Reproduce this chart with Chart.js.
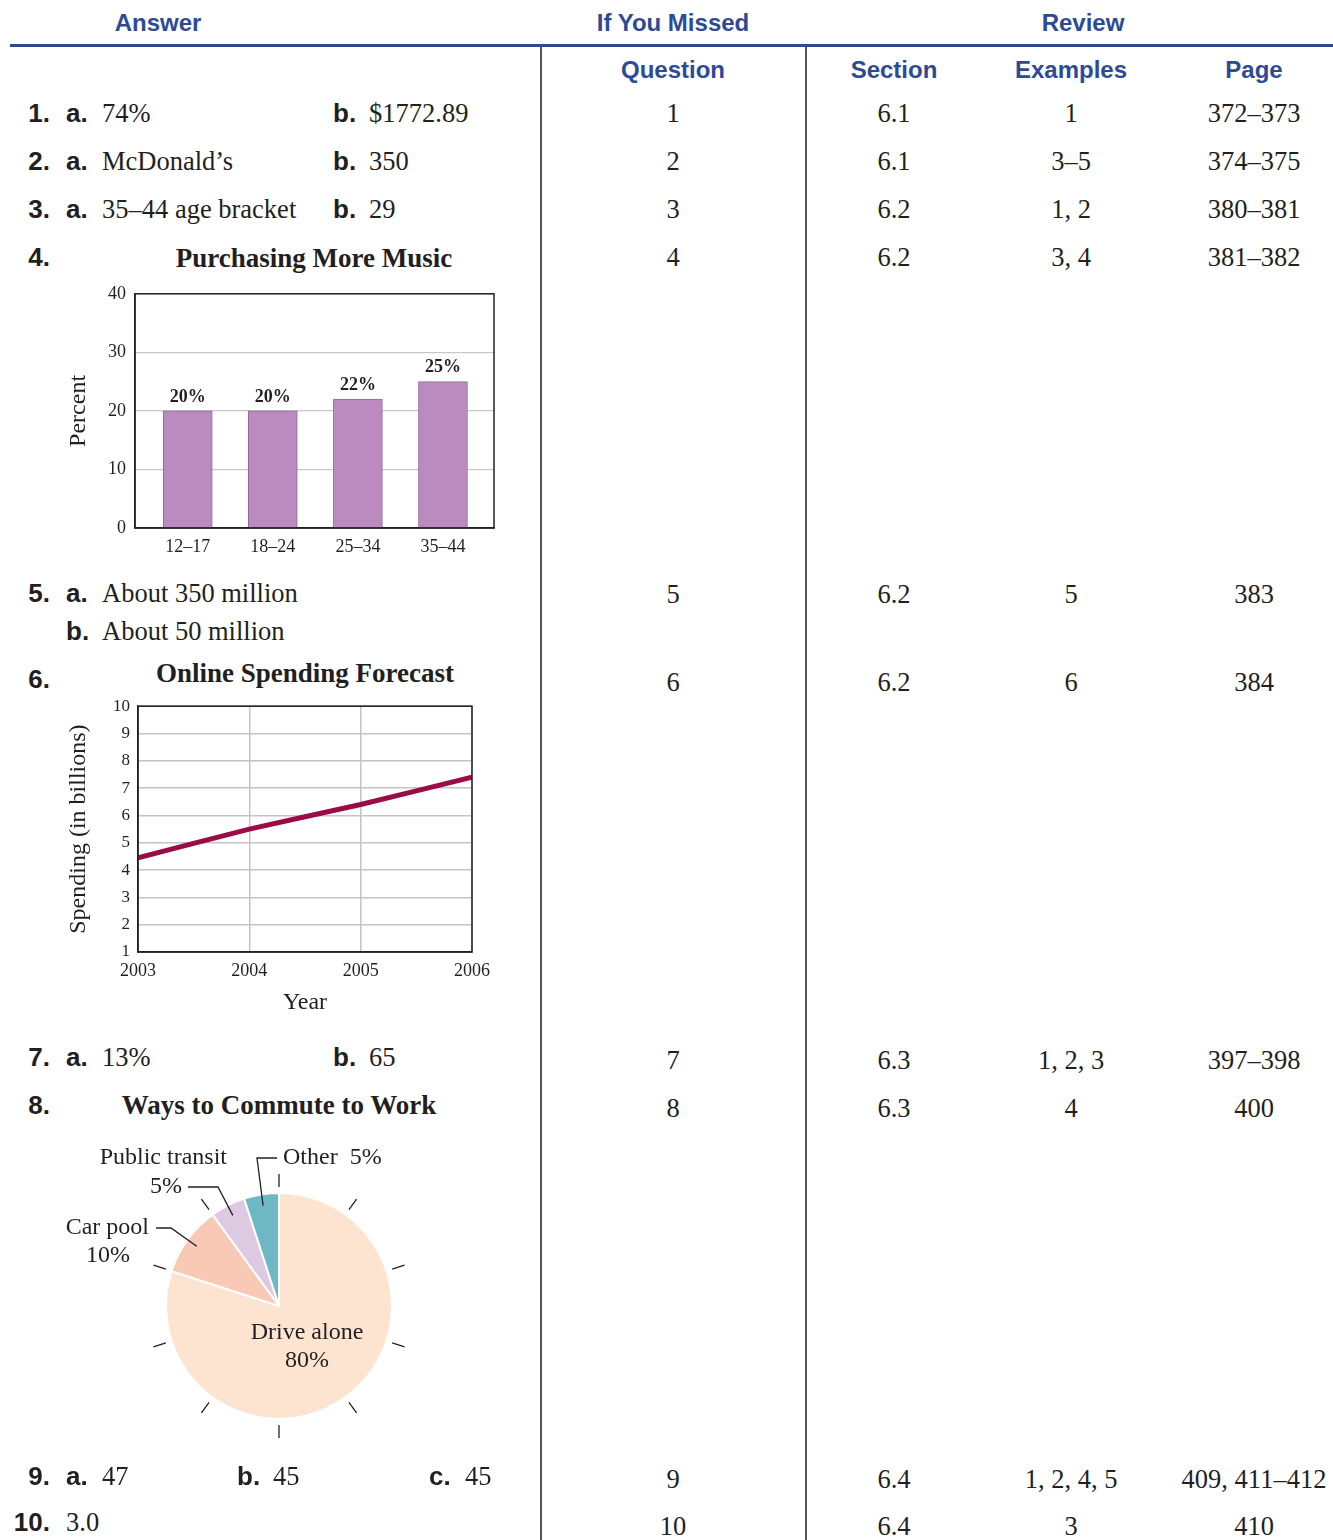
<!DOCTYPE html>
<html>
<head>
<meta charset="utf-8">
<script src="https://cdn.jsdelivr.net/npm/chart.js@4.4.1/dist/chart.umd.min.js"></script>
<style>
body { margin: 0; background: #fff; }
#page { position: relative; width: 1333px; height: 1540px; overflow: hidden;
        font-family: "Liberation Serif", "Times New Roman", serif; color: #231f20; }
.t { position: absolute; white-space: nowrap; line-height: 30px; height: 30px; font-size: 26.5px;
     font-family: "Liberation Serif", "Times New Roman", serif; }
.hd { font-family: "Liberation Sans", Arial, sans-serif; font-weight: bold; color: #2d4a96; font-size: 24px; }
.lb { font-family: "Liberation Sans", Arial, sans-serif; font-weight: bold; font-size: 26px; }
.ct { font-weight: bold; font-size: 27px; }
.rule { position: absolute; background: #2d4a96; }
.vline { position: absolute; background: #555; }
canvas { position: absolute; }
</style>
</head>
<body>
<div id="page">
  <div class="rule" style="left:10px;top:44px;width:1323px;height:3px;"></div>
  <div class="vline" style="left:540px;top:47px;width:1.5px;height:1493px;"></div>
  <div class="vline" style="left:805px;top:47px;width:1.5px;height:1493px;"></div>
  <canvas id="musicChart" width="445" height="286" style="left:60px;top:274px;"></canvas>
  <canvas id="spendChart" width="440" height="332" style="left:60px;top:688px;"></canvas>
  <canvas id="commuteChart" width="420" height="340" style="left:40px;top:1136px;"></canvas>
</div>
<script>
// table columns
const questionNums = ['1', '2', '3', '4', '5', '6', '7', '8', '9', '10'];
const sections = ['6.1', '6.1', '6.2', '6.2', '6.2', '6.2', '6.3', '6.3', '6.4', '6.4'];
const examples = ['1', '3–5', '1, 2', '3, 4', '5', '6', '1, 2, 3', '4', '1, 2, 4, 5', '3'];
const pages = ['372–373', '374–375', '380–381', '381–382', '383', '384', '397–398', '400', '409, 411–412', '410'];

// chart data
const musicAges = ['12–17', '18–24', '25–34', '35–44'];
const musicPercents = [20, 20, 22, 25];

const forecastYears = [2003, 2004, 2005, 2006];
const forecastSpending = [4.45, 5.5, 6.4, 7.4];

const commuteModes = ['Drive alone', 'Car pool', 'Public transit', 'Other'];
const commuteShares = [80, 10, 5, 5];
const commuteColors = ['#fde4d0', '#f9c9b5', '#ddc9e1', '#6db8c4'];

const SERIF = '"Liberation Serif", "Times New Roman", serif';
const INK = '#231f20';

const page = document.getElementById('page');

function put(text, x, y, cls, align) {
    const d = document.createElement('div');
    d.className = 't ' + (cls || '');
    d.textContent = text;
    d.style.left = x + 'px';
    d.style.top = (y - 15) + 'px';
    if (align === 'center') d.style.transform = 'translateX(-50%)';
    if (align === 'right') d.style.transform = 'translateX(-100%)';
    page.appendChild(d);
}

// headers
put('Answer', 158, 23, 'hd', 'center');
put('If You Missed', 673, 23, 'hd', 'center');
put('Review', 1083, 23, 'hd', 'center');
put('Question', 673, 70, 'hd', 'center');
put('Section', 894, 70, 'hd', 'center');
put('Examples', 1071, 70, 'hd', 'center');
put('Page', 1254, 70, 'hd', 'center');

// right-hand table
const rowY = [113, 161, 209, 257, 594, 682, 1060, 1108, 1479, 1526];
questionNums.forEach((q, i) => {
    put(q, 673, rowY[i], '', 'center');
    put(sections[i], 894, rowY[i], '', 'center');
    put(examples[i], 1071, rowY[i], '', 'center');
    put(pages[i], 1254, rowY[i], '', 'center');
});

// answers column
function num(n, y) { put(n + '.', 50, y, 'lb', 'right'); }
function part(letter, x, y, value) {
    put(letter + '.', x, y, 'lb', 'left');
    put(value, x + 36, y, '', 'left');
}
num(1, 113); part('a', 66, 113, '74%'); part('b', 333, 113, '$1772.89');
num(2, 161); part('a', 66, 161, 'McDonald’s'); part('b', 333, 161, '350');
num(3, 209); part('a', 66, 209, '35–44 age bracket'); part('b', 333, 209, '29');
num(4, 257); put('Purchasing More Music', 314, 258, 'ct', 'center');
num(5, 593); part('a', 66, 593, 'About 350 million'); part('b', 66, 631, 'About 50 million');
num(6, 679); put('Online Spending Forecast', 305, 673, 'ct', 'center');
num(7, 1057); part('a', 66, 1057, '13%'); part('b', 333, 1057, '65');
num(8, 1105); put('Ways to Commute to Work', 279, 1105, 'ct', 'center');
num(9, 1476); part('a', 66, 1476, '47'); part('b', 237, 1476, '45'); part('c', 429, 1476, '45');
num(10, 1522); put('3.0', 66, 1522, '', 'left');

// box around plot area
const frame = {
    id: 'frame',
    afterDraw(chart) {
        const a = chart.chartArea, ctx = chart.ctx;
        ctx.save();
        ctx.strokeStyle = '#222';
        ctx.lineWidth = 1.5;
        ctx.strokeRect(a.left, a.top, a.right - a.left, a.bottom - a.top);
        ctx.restore();
    }
};

const barLabels = {
    id: 'barLabels',
    afterDatasetsDraw(chart) {
        const ctx = chart.ctx;
        const meta = chart.getDatasetMeta(0);
        ctx.save();
        ctx.font = 'bold 18px ' + SERIF;
        ctx.fillStyle = INK;
        ctx.textAlign = 'center';
        ctx.textBaseline = 'bottom';
        meta.data.forEach((bar, i) => {
            ctx.fillText(musicPercents[i] + '%', bar.x, bar.y - 5);
        });
        ctx.restore();
    }
};

new Chart(document.getElementById('musicChart'), {
    type: 'bar',
    data: {
        datasets: [{
            data: musicPercents.map((v, i) => ({ x: i, y: v })),
            backgroundColor: '#bb8bbf',
            borderColor: '#95679b',
            borderWidth: 1,
            barThickness: 49
        }]
    },
    options: {
        responsive: false,
        animation: false,
        layout: { padding: { top: 8, right: 11, left: 0, bottom: 0 } },
        plugins: { legend: { display: false }, tooltip: { enabled: false } },
        scales: {
            x: {
                type: 'linear', min: -0.62, max: 3.6, offset: false,
                grid: { display: false, drawTicks: false },
                border: { color: '#222', width: 1.5 },
                afterBuildTicks(s) { s.ticks = musicAges.map((_, i) => ({ value: i })); },
                ticks: { color: INK, font: { family: SERIF, size: 18 }, padding: 8,
                         autoSkip: false, maxRotation: 0,
                         callback: v => musicAges[v] },
                afterFit(s) { s.height = 32; }
            },
            y: {
                min: 0, max: 40,
                ticks: { stepSize: 10, color: INK, font: { family: SERIF, size: 18 }, padding: 9 },
                grid: { color: '#c8c8c8', lineWidth: 1.2, drawTicks: false },
                border: { color: '#222', width: 1.5 },
                title: { display: true, text: 'Percent', color: INK,
                         font: { family: SERIF, size: 24 }, padding: { top: 4, bottom: 0 } },
                afterFit(s) { s.width = 75; }
            }
        }
    },
    plugins: [frame, barLabels]
});

new Chart(document.getElementById('spendChart'), {
    type: 'line',
    data: {
        datasets: [{
            data: forecastYears.map((yr, i) => ({ x: yr, y: forecastSpending[i] })),
            borderColor: '#9b0c47',
            borderWidth: 5,
            pointRadius: 0,
            tension: 0.15,
            fill: false
        }]
    },
    options: {
        responsive: false,
        animation: false,
        layout: { padding: { top: 14, right: 28, left: 0, bottom: 0 } },
        plugins: { legend: { display: false }, tooltip: { enabled: false } },
        scales: {
            x: {
                type: 'linear', min: 2003, max: 2006,
                grid: { color: '#c4c4c4', lineWidth: 1.5, drawTicks: false },
                border: { color: '#222', width: 1.5 },
                ticks: { stepSize: 1, color: INK, font: { family: SERIF, size: 18 }, padding: 8,
                         callback: v => String(v) },
                title: { display: true, text: 'Year', color: INK,
                         font: { family: SERIF, size: 24 }, padding: { top: 0, bottom: 3 } },
                afterFit(s) { s.height = 68; }
            },
            y: {
                min: 1, max: 10,
                grid: { color: '#c4c4c4', lineWidth: 1.5, drawTicks: false },
                border: { color: '#222', width: 1.5 },
                ticks: { stepSize: 1, color: INK, font: { family: SERIF, size: 17 }, padding: 8 },
                title: { display: true, text: 'Spending (in billions)', color: INK,
                         font: { family: SERIF, size: 24 }, padding: { top: 4, bottom: 0 } },
                afterFit(s) { s.width = 78; }
            }
        }
    },
    plugins: [frame]
});

// leader lines and labels around the pie (offsets from pie centre)
const pieLeaders = [
    { index: 1, elbow: [-108, -78], end: [-123, -78] },
    { index: 2, elbow: [-61, -119], end: [-91, -119] },
    { index: 3, elbow: [-22, -148], end: [-2, -148] }
];
const pieTexts = [
    { text: commuteModes[0], at: [28, 27], align: 'center' },
    { text: commuteShares[0] + '%', at: [28, 55], align: 'center' },
    { text: commuteModes[1], at: [-130, -78], align: 'right' },
    { text: commuteShares[1] + '%', at: [-171, -50], align: 'center' },
    { text: commuteModes[2], at: [-52, -148], align: 'right' },
    { text: commuteShares[2] + '%', at: [-97, -119], align: 'right' },
    { text: commuteModes[3] + '  ' + commuteShares[3] + '%', at: [4, -148], align: 'left' }
];

const pieDecor = {
    id: 'pieDecor',
    afterDraw(chart) {
        const ctx = chart.ctx;
        const arcs = chart.getDatasetMeta(0).data;
        const cx = arcs[0].x, cy = arcs[0].y, R = arcs[0].outerRadius;
        ctx.save();
        ctx.strokeStyle = INK;
        ctx.lineWidth = 1.3;
        for (let k = 0; k < 10; k++) {
            const a = k * Math.PI / 5 - Math.PI / 2;
            ctx.beginPath();
            ctx.moveTo(cx + Math.cos(a) * (R + 6), cy + Math.sin(a) * (R + 6));
            ctx.lineTo(cx + Math.cos(a) * (R + 19), cy + Math.sin(a) * (R + 19));
            ctx.stroke();
        }
        pieLeaders.forEach(l => {
            const el = arcs[l.index];
            const mid = (el.startAngle + el.endAngle) / 2;
            ctx.beginPath();
            ctx.moveTo(cx + Math.cos(mid) * R * 0.9, cy + Math.sin(mid) * R * 0.9);
            ctx.lineTo(cx + l.elbow[0], cy + l.elbow[1]);
            ctx.lineTo(cx + l.end[0], cy + l.end[1]);
            ctx.stroke();
        });
        ctx.fillStyle = INK;
        ctx.font = '24px ' + SERIF;
        ctx.textBaseline = 'middle';
        pieTexts.forEach(p => {
            ctx.textAlign = p.align;
            ctx.fillText(p.text, cx + p.at[0], cy + p.at[1]);
        });
        ctx.restore();
    }
};

new Chart(document.getElementById('commuteChart'), {
    type: 'pie',
    data: {
        labels: commuteModes,
        datasets: [{
            data: commuteShares,
            backgroundColor: commuteColors,
            borderColor: '#ffffff',
            borderWidth: 2,
            hoverOffset: 0
        }]
    },
    options: {
        responsive: false,
        animation: false,
        layout: { padding: { top: 56, bottom: 56, left: 125, right: 67 } },
        plugins: { legend: { display: false }, tooltip: { enabled: false } }
    },
    plugins: [pieDecor]
});
</script>
</body>
</html>
